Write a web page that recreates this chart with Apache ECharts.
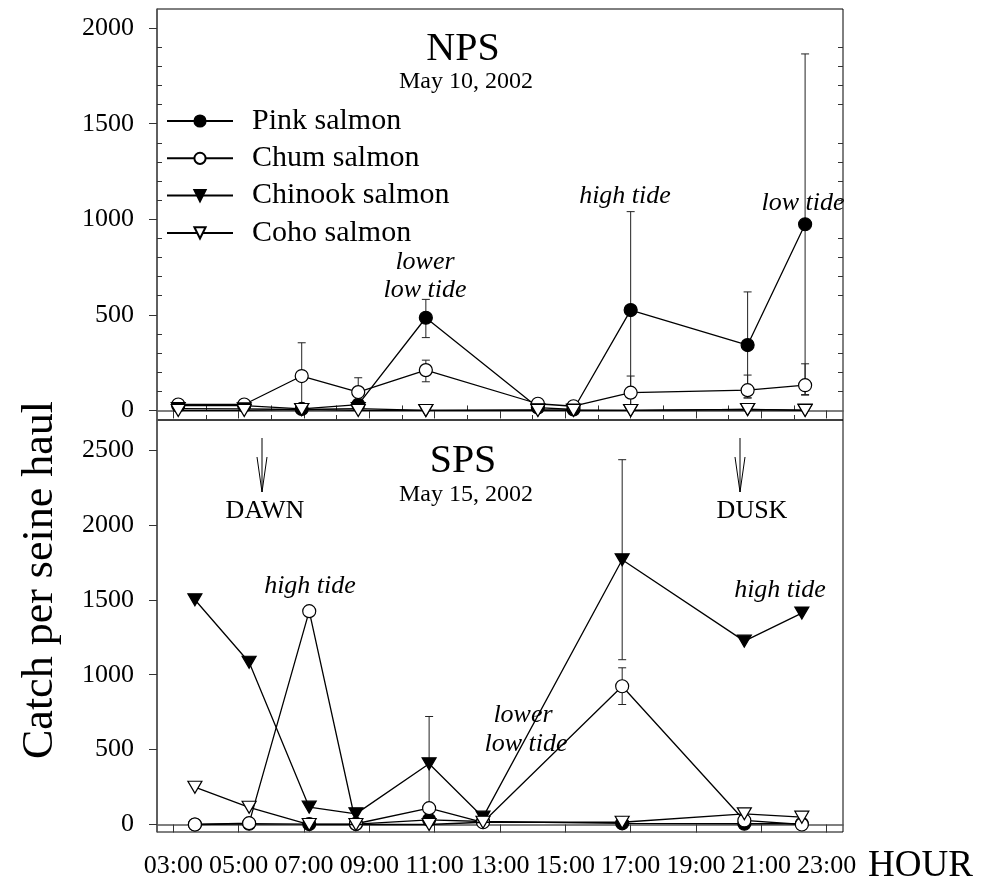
<!DOCTYPE html>
<html>
<head>
<meta charset="utf-8">
<script src="https://cdn.jsdelivr.net/npm/echarts@6/dist/echarts.min.js"></script>
<style>
  html, body { margin: 0; padding: 0; background: #fff; }
  #chart { width: 983px; height: 886px; }
</style>
</head>
<body>
<div id="chart"></div>
<script>
// Hour-of-day tick labels
const hourTicks = [3, 5, 7, 9, 11, 13, 15, 17, 19, 21, 23];
const hourMinorTicks = [4, 6, 8, 10, 12, 14, 16, 18, 20, 22];
const hourLabels = ['03:00', '05:00', '07:00', '09:00', '11:00', '13:00', '15:00', '17:00', '19:00', '21:00', '23:00'];

// y ticks
const npsYTicks = [0, 500, 1000, 1500, 2000];
const npsYMinor = [100, 200, 300, 400, 600, 700, 800, 900, 1100, 1200, 1300, 1400, 1600, 1700, 1800, 1900];
const spsYTicks = [0, 500, 1000, 1500, 2000, 2500];

const speciesNames = ['Pink salmon', 'Chum salmon', 'Chinook salmon', 'Coho salmon'];

// NPS, May 10, 2002 — sampling hours and mean catch per haul
const npsHours   = [3.15, 5.17, 6.93, 8.66, 10.73, 14.16, 15.25, 17.0, 20.58, 22.34];
const npsPink    = [25, 25, 8, 30, 485, 15, 5, 525, 342, 974];
const npsChum    = [31, 31, 180, 96, 211, 35, 22, 93, 106, 132];
const npsChinook = [10, 8, 5, 10, 0, 3, 2, 0, 5, 2];
const npsCoho    = [0, 0, 5, 0, 0, 0, 0, 0, 5, 0];
// error bars: [hour, low, high]
const npsPinkErr = [[10.73, 381, 581], [17.0, 10, 1040], [20.58, 65, 620], [22.34, 83, 1865]];
const npsChumErr = [[6.93, 6, 354], [8.66, 21, 171], [10.73, 150, 263], [17.0, 6, 180], [20.58, 66, 185], [22.34, 80, 244]];

// SPS, May 15, 2002
const spsHours   = [3.66, 5.32, 7.16, 8.59, 10.83, 12.48, 16.74, 20.48, 22.24];
const spsPink    = [0, 5, 3, 3, 31, 20, 8, 5, 5];
const spsChum    = [0, 9, 1424, 5, 109, 15, 923, 27, 0];
const spsChinook = [1500, 1083, 116, 71, 405, 49, 1767, 1224, 1411];
const spsCoho    = [249, 115, 0, 0, 0, 15, 15, 71, 49];
const spsChinookErr = [[10.83, 89, 721], [16.74, 1100, 2435]];
const spsChumErr    = [[16.74, 801, 1046]];

const FONT = '"Liberation Serif", "Times New Roman", serif';

function pairs(xs, ys) { return xs.map((x, i) => [x, ys[i]]); }

const markers = [
  { symbol: 'circle', symbolSize: 13, color: '#000', rotate: 0 },
  { symbol: 'circle', symbolSize: 13, color: '#fff', rotate: 0 },
  { symbol: 'triangle', symbolSize: [14, 12], color: '#000', rotate: 180 },
  { symbol: 'triangle', symbolSize: [14, 12], color: '#fff', rotate: 180 }
];

function lineSeries(idx, data, panel) {
  const m = markers[idx];
  return {
    type: 'line',
    name: speciesNames[idx],
    xAxisIndex: panel === 0 ? 0 : 2,
    yAxisIndex: panel === 0 ? 0 : 3,
    data: data,
    symbol: m.symbol,
    symbolSize: m.symbolSize,
    symbolRotate: m.rotate,
    showAllSymbol: true,
    lineStyle: { color: '#000', width: 1.3 },
    itemStyle: { color: m.color, borderColor: '#000', borderWidth: 1.2, opacity: 1 },
    z: 3 + idx,
    animation: false,
    silent: true
  };
}

function errRender(params, api) {
  const x = api.value(0), lo = api.value(1), hi = api.value(2);
  const p1 = api.coord([x, hi]);
  const p2 = api.coord([x, lo]);
  const w = 4;
  const st = { stroke: '#222', lineWidth: 1 };
  return {
    type: 'group',
    children: [
      { type: 'line', shape: { x1: p1[0], y1: p1[1], x2: p2[0], y2: p2[1] }, style: st },
      { type: 'line', shape: { x1: p1[0] - w, y1: p1[1], x2: p1[0] + w, y2: p1[1] }, style: st },
      { type: 'line', shape: { x1: p2[0] - w, y1: p2[1], x2: p2[0] + w, y2: p2[1] }, style: st }
    ]
  };
}

function errSeries(data, panel) {
  return {
    type: 'custom',
    xAxisIndex: panel === 0 ? 0 : 2,
    yAxisIndex: panel === 0 ? 0 : 3,
    renderItem: errRender,
    encode: { x: 0, y: [1, 2] },
    data: data,
    z: 1,
    silent: true,
    animation: false
  };
}

const axisLineStyle = { show: true, lineStyle: { color: '#555', width: 1.5 } };
const plainNumber = v => String(v);

function xMajor(grid, showLabels) {
  return {
    type: 'value', gridIndex: grid, min: 2.5, max: 23.5,
    axisLine: axisLineStyle,
    axisTick: { show: true, customValues: hourTicks, length: 8, lineStyle: { color: '#333', width: 1 } },
    axisLabel: showLabels ? {
      show: true, customValues: hourTicks, margin: 21,
      formatter: v => hourLabels[hourTicks.indexOf(v)] || '',
      color: '#000', fontFamily: FONT, fontSize: 26
    } : { show: false },
    splitLine: { show: false }
  };
}
function xMinor(grid) {
  return {
    type: 'value', gridIndex: grid, min: 2.5, max: 23.5,
    axisLine: { show: false },
    axisTick: { show: true, customValues: hourMinorTicks, length: 5, lineStyle: { color: '#333', width: 1 } },
    axisLabel: { show: false },
    splitLine: { show: false }
  };
}

const option = {
  backgroundColor: '#fff',
  animation: false,
  grid: [
    { left: 157, top: 9, width: 686, height: 411, show: true, borderColor: '#000', borderWidth: 1, backgroundColor: 'transparent' },
    { left: 157, top: 420, width: 686, height: 412, show: true, borderColor: '#000', borderWidth: 1, backgroundColor: 'transparent' }
  ],
  xAxis: [xMajor(0, false), xMinor(0), xMajor(1, true), xMinor(1)],
  yAxis: [
    {
      type: 'value', gridIndex: 0, min: -50, max: 2100, position: 'left',
      axisLine: axisLineStyle,
      axisTick: { show: true, customValues: npsYTicks, length: 8, lineStyle: { color: '#333' } },
      axisLabel: { show: true, customValues: npsYTicks, formatter: plainNumber, margin: 23, color: '#000', fontFamily: FONT, fontSize: 26 },
      splitLine: { show: false }
    },
    {
      type: 'value', gridIndex: 0, min: -50, max: 2100, position: 'left',
      axisLine: { show: false },
      axisTick: { show: true, inside: true, customValues: npsYMinor, length: 5, lineStyle: { color: '#333' } },
      axisLabel: { show: false },
      splitLine: { show: false }
    },
    {
      type: 'value', gridIndex: 0, min: -50, max: 2100, position: 'right',
      axisLine: { show: false },
      axisTick: { show: true, inside: true, customValues: npsYMinor, length: 5, lineStyle: { color: '#333' } },
      axisLabel: { show: false },
      splitLine: { show: false }
    },
    {
      type: 'value', gridIndex: 1, min: -50, max: 2700, position: 'left',
      axisLine: axisLineStyle,
      axisTick: { show: true, customValues: spsYTicks, length: 8, lineStyle: { color: '#333' } },
      axisLabel: { show: true, customValues: spsYTicks, formatter: plainNumber, margin: 23, color: '#000', fontFamily: FONT, fontSize: 26 },
      splitLine: { show: false }
    }
  ],
  legend: {
    data: speciesNames,
    orient: 'vertical',
    left: 161,
    top: 101,
    itemWidth: 66,
    itemHeight: 14,
    itemGap: 7.3,
    selectedMode: false,
    textStyle: { color: '#000', fontFamily: FONT, fontSize: 30, lineHeight: 30, padding: [0, 0, 0, 14] }
  },
  series: [
    errSeries(npsPinkErr, 0),
    errSeries(npsChumErr, 0),
    errSeries(spsChinookErr, 1),
    errSeries(spsChumErr, 1),
    lineSeries(0, pairs(npsHours, npsPink), 0),
    lineSeries(1, pairs(npsHours, npsChum), 0),
    lineSeries(2, pairs(npsHours, npsChinook), 0),
    lineSeries(3, pairs(npsHours, npsCoho), 0),
    lineSeries(0, pairs(spsHours, spsPink), 1),
    lineSeries(1, pairs(spsHours, spsChum), 1),
    lineSeries(2, pairs(spsHours, spsChinook), 1),
    lineSeries(3, pairs(spsHours, spsCoho), 1)
  ],
  graphic: [
    // panel titles
    { type: 'text', x: 463, y: 49, style: { text: 'NPS', font: '40px ' + FONT, fill: '#000', textAlign: 'center', textVerticalAlign: 'middle' } },
    { type: 'text', x: 466, y: 82, style: { text: 'May 10, 2002', font: '24px ' + FONT, fill: '#000', textAlign: 'center', textVerticalAlign: 'middle' } },
    { type: 'text', x: 463, y: 461, style: { text: 'SPS', font: '40px ' + FONT, fill: '#000', textAlign: 'center', textVerticalAlign: 'middle' } },
    { type: 'text', x: 466, y: 495, style: { text: 'May 15, 2002', font: '24px ' + FONT, fill: '#000', textAlign: 'center', textVerticalAlign: 'middle' } },
    // tide notes, NPS
    { type: 'text', x: 425, y: 262, style: { text: 'lower', font: 'italic 26px ' + FONT, fill: '#000', textAlign: 'center', textVerticalAlign: 'middle' } },
    { type: 'text', x: 425, y: 290, style: { text: 'low tide', font: 'italic 26px ' + FONT, fill: '#000', textAlign: 'center', textVerticalAlign: 'middle' } },
    { type: 'text', x: 625, y: 196, style: { text: 'high tide', font: 'italic 26px ' + FONT, fill: '#000', textAlign: 'center', textVerticalAlign: 'middle' } },
    { type: 'text', x: 803, y: 203, style: { text: 'low tide', font: 'italic 26px ' + FONT, fill: '#000', textAlign: 'center', textVerticalAlign: 'middle' } },
    // tide notes, SPS
    { type: 'text', x: 310, y: 586, style: { text: 'high tide', font: 'italic 26px ' + FONT, fill: '#000', textAlign: 'center', textVerticalAlign: 'middle' } },
    { type: 'text', x: 523, y: 715, style: { text: 'lower', font: 'italic 26px ' + FONT, fill: '#000', textAlign: 'center', textVerticalAlign: 'middle' } },
    { type: 'text', x: 526, y: 744, style: { text: 'low tide', font: 'italic 26px ' + FONT, fill: '#000', textAlign: 'center', textVerticalAlign: 'middle' } },
    { type: 'text', x: 780, y: 590, style: { text: 'high tide', font: 'italic 26px ' + FONT, fill: '#000', textAlign: 'center', textVerticalAlign: 'middle' } },
    // dawn / dusk arrows
    { type: 'line', shape: { x1: 262, y1: 438, x2: 262, y2: 492 }, style: { stroke: '#000', lineWidth: 1 } },
    { type: 'polyline', shape: { points: [[257, 457], [262, 492], [267, 457]] }, style: { stroke: '#000', lineWidth: 1, fill: null } },
    { type: 'text', x: 265, y: 511, style: { text: 'DAWN', font: '26px ' + FONT, fill: '#000', textAlign: 'center', textVerticalAlign: 'middle' } },
    { type: 'line', shape: { x1: 740, y1: 438, x2: 740, y2: 492 }, style: { stroke: '#000', lineWidth: 1 } },
    { type: 'polyline', shape: { points: [[735, 457], [740, 492], [745, 457]] }, style: { stroke: '#000', lineWidth: 1, fill: null } },
    { type: 'text', x: 752, y: 511, style: { text: 'DUSK', font: '26px ' + FONT, fill: '#000', textAlign: 'center', textVerticalAlign: 'middle' } },
    // axis titles
    { type: 'text', x: 40, y: 580, rotation: Math.PI / 2, style: { text: 'Catch per seine haul', font: '44px ' + FONT, fill: '#000', textAlign: 'center', textVerticalAlign: 'middle' } },
    { type: 'text', x: 868, y: 866, style: { text: 'HOUR', font: '37px ' + FONT, fill: '#000', textAlign: 'left', textVerticalAlign: 'middle' } }
  ]
};

const chart = echarts.init(document.getElementById('chart'), null, { renderer: 'canvas' });
chart.setOption(option);
</script>
</body>
</html>
